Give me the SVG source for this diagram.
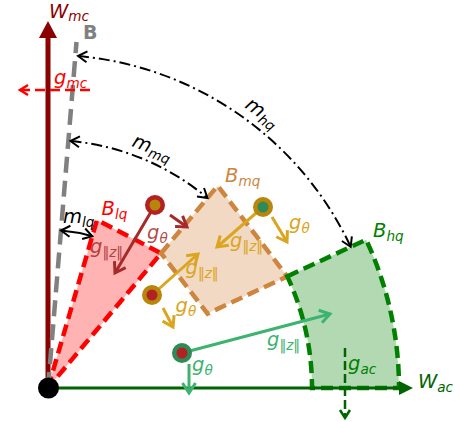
<svg xmlns="http://www.w3.org/2000/svg" width="460" height="422" viewBox="0 0 460 422">
<style>
.t{font-family:"DejaVu Sans","Liberation Sans",sans-serif;font-size:19.5px;font-style:italic}
.s{font-size:13.6px}
.n{font-style:normal}
.mline{fill:none;stroke:#000;stroke-width:2;stroke-dasharray:11,4,2,4}
.reg{stroke-width:4.5;stroke-dasharray:12,6}
</style>
<defs>
<marker id="ak" markerUnits="userSpaceOnUse" markerWidth="16" markerHeight="16" viewBox="-13 -8 16 16" refX="0" refY="0" orient="auto-start-reverse"><path d="M-9,-5.5 L0,0 L-9,5.5" fill="none" stroke="#000" stroke-width="2"/></marker>
<marker id="ar" markerUnits="userSpaceOnUse" markerWidth="16" markerHeight="16" viewBox="-13 -8 16 16" refX="0" refY="0" orient="auto"><path d="M-8,-5 L0,0 L-8,5" fill="none" stroke="#FF0000" stroke-width="2.5"/></marker>
<marker id="ab" markerUnits="userSpaceOnUse" markerWidth="20" markerHeight="20" viewBox="-15 -10 20 20" refX="0" refY="0" orient="auto"><path d="M-10,-6.5 L0,0 L-10,6.5" fill="none" stroke="#A52A2A" stroke-width="3"/></marker>
<marker id="ag" markerUnits="userSpaceOnUse" markerWidth="20" markerHeight="20" viewBox="-15 -10 20 20" refX="0" refY="0" orient="auto"><path d="M-10,-6.5 L0,0 L-10,6.5" fill="none" stroke="#DAA520" stroke-width="3"/></marker>
<marker id="as" markerUnits="userSpaceOnUse" markerWidth="20" markerHeight="20" viewBox="-15 -10 20 20" refX="0" refY="0" orient="auto"><path d="M-10,-6.5 L0,0 L-10,6.5" fill="none" stroke="#3CB371" stroke-width="3"/></marker>
<marker id="ad" markerUnits="userSpaceOnUse" markerWidth="16" markerHeight="16" viewBox="-13 -8 16 16" refX="0" refY="0" orient="auto"><path d="M-8,-5 L0,0 L-8,5" fill="none" stroke="#006400" stroke-width="2.5"/></marker>
</defs>

<g id="region-Blq">
<path class="reg" d="M48,388 L97,220 L161.1,253.2 Z" fill="#FFB3B3" stroke="#FF0000"/>
<text class="t" x="101.5" y="215" fill="#FF0000">B<tspan class="s" dy="4">lq</tspan></text>
</g>
<g id="region-Bmq">
<path class="reg" d="M161.1,253.2 L217.7,185.8 L287.3,276.4 L207.5,313.6 Z" fill="#F2D9C4" stroke="#CD853F"/>
<text class="t" x="225" y="182" fill="#CD853F">B<tspan class="s" dy="4">mq</tspan></text>
</g>
<g id="region-Bhq">
<path class="reg" d="M287.3,276.4 L366.1,239.7 A351,351 0 0 1 399,388 L312,388 A264,264 0 0 0 287.3,276.4 Z" fill="#B2D9B2" stroke="#008000"/>
<text class="t" x="373" y="237" fill="#008000">B<tspan class="s" dy="4">hq</tspan></text>
</g>

<g id="axis-Wmc">
<line x1="48" y1="388" x2="48" y2="37" stroke="#8B0000" stroke-width="5"/>
<polygon points="48,21 57,38 39,38" fill="#8B0000"/>
<text class="t" x="49" y="18" fill="#8B0000">W<tspan class="s" dy="3">mc</tspan></text>
</g>
<g id="axis-Wac">
<line x1="48" y1="388" x2="400" y2="388" stroke="#006400" stroke-width="3"/>
<polygon points="413,388 399,381 399,395" fill="#006400"/>
<text class="t" x="418" y="388" fill="#006400">W<tspan class="s" dy="4">ac</tspan></text>
</g>
<g id="line-B">
<line x1="48" y1="388" x2="76.5" y2="42" stroke="#808080" stroke-width="4.5" stroke-dasharray="16,8"/>
<text x="83" y="39" font-family="DejaVu Sans,sans-serif" font-size="19" font-weight="bold" fill="#808080">B</text>
</g>

<g id="connectors">
<path class="mline" d="M78,56 A334,334 0 0 1 350.7,246.8" marker-start="url(#ak)" marker-end="url(#ak)"/>
<path class="mline" d="M70.5,141 A248,248 0 0 1 207.4,198" marker-start="url(#ak)" marker-end="url(#ak)"/>
<path d="M61,230.5 A158,158 0 0 1 92.3,236.3" fill="none" stroke="#000" stroke-width="2" marker-start="url(#ak)" marker-end="url(#ak)"/>
<line x1="90" y1="90" x2="20" y2="90" stroke="#FF0000" stroke-width="2.5" stroke-dasharray="10,5" marker-end="url(#ar)"/>
<line x1="155" y1="205" x2="115" y2="273" stroke="#A52A2A" stroke-width="3" marker-end="url(#ab)"/>
<line x1="170" y1="215" x2="187" y2="227" stroke="#A52A2A" stroke-width="3" marker-end="url(#ab)"/>
<line x1="263" y1="207" x2="217" y2="247" stroke="#DAA520" stroke-width="3" marker-end="url(#ag)"/>
<line x1="272" y1="217" x2="287" y2="242" stroke="#DAA520" stroke-width="3" marker-end="url(#ag)"/>
<line x1="152" y1="295" x2="198" y2="254" stroke="#DAA520" stroke-width="3" marker-end="url(#ag)"/>
<line x1="163" y1="308" x2="173" y2="327" stroke="#DAA520" stroke-width="3" marker-end="url(#ag)"/>
<line x1="182" y1="353" x2="330" y2="314" stroke="#3CB371" stroke-width="3" marker-end="url(#as)"/>
<line x1="189" y1="364" x2="189" y2="393" stroke="#3CB371" stroke-width="3" marker-end="url(#as)"/>
<line x1="345" y1="348" x2="345" y2="418" stroke="#006400" stroke-width="2.5" stroke-dasharray="9,4" marker-end="url(#ad)"/>
</g>

<g id="labels">
<text class="t" x="244" y="107" transform="rotate(36,244,107)">m<tspan class="s" dy="4">hq</tspan></text>
<text class="t" x="131" y="146" transform="rotate(21,131,146)">m<tspan class="s" dy="4">mq</tspan></text>
<text class="t" x="63" y="223">m<tspan class="s" dy="4">lq</tspan></text>
<text class="t" x="54" y="84" fill="#FF0000">g<tspan class="s" dy="4">mc</tspan></text>
<text class="t" x="90" y="252.5" fill="#A52A2A" fill-opacity="0.85">g<tspan class="s" dy="4"><tspan class="n">‖</tspan>z<tspan class="n">‖</tspan></tspan></text>
<text class="t" x="147" y="239" fill="#A52A2A" fill-opacity="0.85">g<tspan class="s" dy="4">θ</tspan></text>
<text class="t" x="230" y="247" fill="#DAA520">g<tspan class="s" dy="4"><tspan class="n">‖</tspan>z<tspan class="n">‖</tspan></tspan></text>
<text class="t" x="289" y="229" fill="#DAA520">g<tspan class="s" dy="4">θ</tspan></text>
<text class="t" x="185.5" y="274" fill="#DAA520">g<tspan class="s" dy="4"><tspan class="n">‖</tspan>z<tspan class="n">‖</tspan></tspan></text>
<text class="t" x="175.5" y="312" fill="#DAA520">g<tspan class="s" dy="4">θ</tspan></text>
<text class="t" x="267" y="346" fill="#3CB371">g<tspan class="s" dy="4"><tspan class="n">‖</tspan>z<tspan class="n">‖</tspan></tspan></text>
<text class="t" x="192" y="371" fill="#3CB371">g<tspan class="s" dy="4">θ</tspan></text>
<text class="t" x="348" y="370" fill="#008000">g<tspan class="s" dy="4">ac</tspan></text>
</g>

<g id="dot1"><circle cx="155" cy="205" r="10" fill="#B22222"/><circle cx="155" cy="205" r="5.5" fill="#B8860B"/></g>
<g id="dot2"><circle cx="263" cy="207" r="10" fill="#B8860B"/><circle cx="263" cy="207" r="5.5" fill="#2E8B57"/></g>
<g id="dot3"><circle cx="152" cy="295" r="10" fill="#B8860B"/><circle cx="152" cy="295" r="5.5" fill="#B22222"/></g>
<g id="dot4"><circle cx="182" cy="353" r="10" fill="#2E8B57"/><circle cx="182" cy="353" r="5.5" fill="#B22222"/></g>
<g id="origin"><circle cx="48.5" cy="388" r="10.5" fill="#000"/></g>
</svg>
